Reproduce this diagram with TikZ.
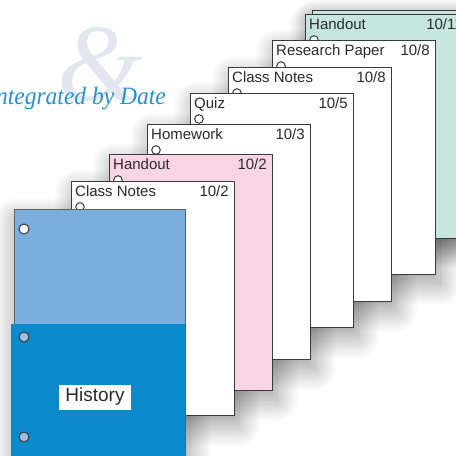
\documentclass[tikz,border=0pt]{standalone}
\usepackage{fontspec}
\setmainfont{Liberation Sans}
\newfontfamily\headfont{Liberation Serif}
\usetikzlibrary{positioning,shadows.blur}
\definecolor{pgline}{HTML}{3A3A3A}
\definecolor{pgtext}{HTML}{2B2B2B}
\definecolor{pinkpg}{HTML}{F8D5E4}
\definecolor{tealpg}{HTML}{C6E6DD}
\definecolor{foldlight}{HTML}{7BAEDD}
\definecolor{folddark}{HTML}{0A8ACB}
\definecolor{holeblue}{HTML}{9DBFE6}
\definecolor{headblue}{HTML}{2A8FD0}
\definecolor{wmark}{HTML}{E2E7EF}
\begin{document}
\begin{tikzpicture}[x=1pt,y=-1pt,
    shade/.style={blur shadow={shadow xshift=5pt,shadow yshift=-10pt,shadow blur radius=22pt,shadow blur steps=25,shadow opacity=40}},
    page/.style={draw=pgline,line width=0.9pt,anchor=north west,inner sep=0pt,minimum width=163pt},
    tab/.style={anchor=base west,inner sep=0pt,text=pgtext,font=\fontsize{15}{15}\selectfont},
    date/.style={anchor=base east,inner sep=0pt,text=pgtext,font=\fontsize{15}{15}\selectfont},
    hole/.style={draw=pgline,fill=white,line width=1pt}]
    \useasboundingbox (0,0) rectangle (456,456);
    \clip (0,0) rectangle (456,456);
    % Draw faint background lettering
    \node[text=wmark,font=\headfont\itshape\fontsize{110}{110}\selectfont] (amp) at (100,64) {\&};
    \node[anchor=base east,inner sep=0pt,xscale=0.94,text=headblue,font=\headfont\itshape\fontsize{25}{25}\selectfont] (head) at (166,104) {Integrated by Date};
    % Draw the shadows first, so that they fall only on the background
    \path[shade] (312,10) rectangle +(163,224);
    \foreach \lx/\ty/\hh in {305/14/224,272/40/234,228/67/234,190/93/234,147/124/235,109/154/236,71/181/234}
      \path[shade] (\lx,\ty) rectangle +(163,\hh);
    \path[shade] (11,209) rectangle (185,470);
    % Draw the stack of pages, back to front
    \node[page,fill=tealpg,minimum height=224pt] (hdback) at (312,10) {};
    \foreach \nm/\lx/\ty/\hh/\col/\ttl/\dt in {
        hdb/305/14/224/tealpg/Handout/{10/11},
        rp/272/40/234/white/Research Paper/{10/8},
        cnb/228/67/234/white/Class Notes/{10/8},
        qz/190/93/234/white/Quiz/{10/5},
        hw/147/124/235/white/Homework/{10/3},
        hda/109/154/236/pinkpg/Handout/{10/2},
        cna/71/181/234/white/Class Notes/{10/2}} {
      \node[page,fill=\col,minimum height=\hh pt] (\nm) at (\lx,\ty) {};
      \node[tab] (\nm-t) at ([xshift=4pt,yshift=-15pt]\nm.north west) {\ttl};
      \node[date] (\nm-d) at ([xshift=-6pt,yshift=-15pt]\nm.north east) {\dt};
      \draw[hole] ([xshift=9pt,yshift=-26pt]\nm.north west) circle (4.3pt);
    }
    % Draw the folder with its pocket
    \node[page,fill=foldlight,draw=pgline!80,minimum width=171pt,minimum height=270pt] (folder) at (14,209) {};
    \draw[hole] ([xshift=10pt,yshift=-20pt]folder.north west) circle (5pt);
    \node[anchor=north west,fill=folddark,inner sep=0pt,minimum width=174pt,minimum height=140pt] (pocket) at (11,324) {};
    \draw[hole,fill=holeblue] ([xshift=13pt,yshift=-13pt]pocket.north west) circle (5pt);
    \draw[hole,fill=holeblue] ([xshift=13pt,yshift=-113pt]pocket.north west) circle (5pt);
    \node[fill=white,text=pgtext,inner xsep=6pt,inner ysep=2pt,minimum height=25pt,font=\fontsize{19}{19}\selectfont] (label) at (95,397) {History};
\end{tikzpicture}
\end{document}
